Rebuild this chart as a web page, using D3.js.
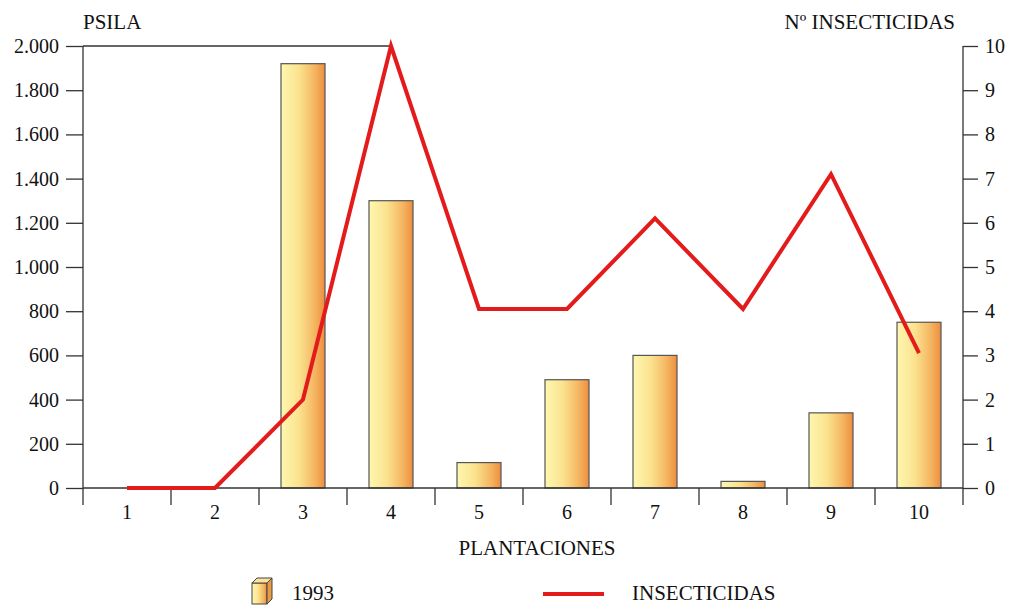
<!DOCTYPE html>
<html>
<head>
<meta charset="utf-8">
<script src="https://cdn.jsdelivr.net/npm/d3@7"></script>
<style>
  body { margin: 0; background: #fff; }
</style>
</head>
<body>
<div id="chart"></div>
<script>
// plantaciones 1..10
var plantaciones = ["1", "2", "3", "4", "5", "6", "7", "8", "9", "10"];
// psila 1993 (left axis)
var psila1993 = [0, 0, 1920, 1300, 115, 490, 600, 30, 340, 750];
// numero de insecticidas (right axis)
var insecticidas = [0, 0, 2, 10, 4.05, 4.05, 6.1, 4.05, 7.1, 3.05];
var leftTicks = [0, 200, 400, 600, 800, 1000, 1200, 1400, 1600, 1800, 2000];
var rightTicks = [0, 1, 2, 3, 4, 5, 6, 7, 8, 9, 10];

var W = 1012, H = 609;
var x0 = 83, x1 = 963, yTop = 46, yBot = 488;
var serif = "Liberation Serif, Times New Roman, serif";

var svg = d3.select("#chart").append("svg")
    .attr("width", W)
    .attr("height", H)
    .attr("font-family", serif);

var defs = svg.append("defs");
var grad = defs.append("linearGradient").attr("id", "barGrad")
    .attr("x1", "0%").attr("x2", "100%").attr("y1", "0%").attr("y2", "0%");
grad.append("stop").attr("offset", "0%").attr("stop-color", "#fef7b0");
grad.append("stop").attr("offset", "40%").attr("stop-color", "#fbe390");
grad.append("stop").attr("offset", "75%").attr("stop-color", "#f5b864");
grad.append("stop").attr("offset", "100%").attr("stop-color", "#ec8e3e");

var x = d3.scaleBand().domain(plantaciones).range([x0, x1]);
var yL = d3.scaleLinear().domain([0, 2000]).range([yBot, yTop]);
var yR = d3.scaleLinear().domain([0, 10]).range([yBot, yTop]);

var fmt = function (d) { return d3.format(",")(d).replace(/,/g, "."); };

// bars
svg.selectAll("rect.bar")
    .data(psila1993)
    .enter()
    .append("rect")
    .attr("class", "bar")
    .attr("x", function (d, i) { return x(plantaciones[i]) + x.bandwidth() / 4; })
    .attr("y", function (d) { return yL(d); })
    .attr("width", x.bandwidth() / 2)
    .attr("height", function (d) { return yBot - yL(d); })
    .style("fill", "url(#barGrad)")
    .style("stroke", "#555")
    .style("stroke-width", 1.2)
    .style("display", function (d) { return d > 0 ? null : "none"; });

var axisCol = "#333";

// x axis baseline
svg.append("line")
    .attr("x1", x0).attr("x2", x1).attr("y1", yBot).attr("y2", yBot)
    .style("stroke", axisCol).style("stroke-width", 1.3);

// top frame line (partial)
svg.append("line")
    .attr("x1", x0).attr("x2", x(plantaciones[3]) + x.bandwidth() / 2).attr("y1", yTop).attr("y2", yTop)
    .style("stroke", axisCol).style("stroke-width", 1.3);

// left axis
var gL = svg.append("g").attr("transform", "translate(" + x0 + ",0)")
    .call(d3.axisLeft(yL).tickValues(leftTicks).tickFormat(fmt).tickSize(17).tickPadding(7));
gL.select(".domain").remove();
gL.append("line").attr("x1", 0).attr("x2", 0).attr("y1", yTop).attr("y2", yBot + 17)
    .style("stroke", axisCol).style("stroke-width", 1.3);

// right axis
var gR = svg.append("g").attr("transform", "translate(" + x1 + ",0)")
    .call(d3.axisRight(yR).tickValues(rightTicks).tickSize(15).tickPadding(7));
gR.select(".domain").remove();
gR.append("line").attr("x1", 0).attr("x2", 0).attr("y1", yTop).attr("y2", yBot + 17)
    .style("stroke", axisCol).style("stroke-width", 1.3);

// bottom axis
var gB = svg.append("g").attr("transform", "translate(0," + yBot + ")")
    .call(d3.axisBottom(x).tickSize(0).tickPadding(17));
gB.select(".domain").remove();
gB.selectAll(".tickmark")
    .data(plantaciones.slice(1))
    .enter()
    .append("line")
    .attr("x1", function (d) { return x(d); })
    .attr("x2", function (d) { return x(d); })
    .attr("y1", 0).attr("y2", 17)
    .style("stroke", axisCol).style("stroke-width", 1.3);

[gL, gR, gB].forEach(function (g) {
    g.attr("font-family", serif).attr("font-size", 20);
    g.selectAll(".tick line").style("stroke", axisCol).style("stroke-width", 1.3);
    g.selectAll(".tick text").attr("fill", "#111");
});

// insecticidas line
var line = d3.line()
    .x(function (d, i) { return x(plantaciones[i]) + x.bandwidth() / 2; })
    .y(function (d) { return yR(d); });

svg.append("path")
    .datum(insecticidas)
    .attr("d", line)
    .style("fill", "none")
    .style("stroke", "#e41b1b")
    .style("stroke-width", 4)
    .style("stroke-linejoin", "miter");

// titles
svg.append("text").attr("x", 83).attr("y", 29)
    .attr("font-size", 21).attr("fill", "#111").text("PSILA");
svg.append("text").attr("x", 955).attr("y", 29).attr("text-anchor", "end")
    .attr("font-size", 21).attr("fill", "#111").text("Nº INSECTICIDAS");
svg.append("text").attr("x", 537).attr("y", 555).attr("text-anchor", "middle")
    .attr("font-size", 21).attr("fill", "#111").text("PLANTACIONES");

// legend
var lg = svg.append("g");
var bx = 252, by = 583, bw = 15, bh = 21, dp = 5;
lg.append("rect").attr("x", bx).attr("y", by).attr("width", bw).attr("height", bh)
    .style("fill", "url(#barGrad)").style("stroke", "#444").style("stroke-width", 1);
lg.append("polygon")
    .attr("points", [[bx, by], [bx + dp, by - dp], [bx + bw + dp, by - dp], [bx + bw, by]].join(" "))
    .style("fill", "#fbe49a").style("stroke", "#444").style("stroke-width", 1);
lg.append("polygon")
    .attr("points", [[bx + bw, by], [bx + bw + dp, by - dp], [bx + bw + dp, by + bh - dp], [bx + bw, by + bh]].join(" "))
    .style("fill", "#e99a45").style("stroke", "#444").style("stroke-width", 1);
lg.append("text").attr("x", 292).attr("y", 600).attr("font-size", 21).attr("fill", "#111").text("1993");

lg.append("line").attr("x1", 543).attr("x2", 604).attr("y1", 594).attr("y2", 594)
    .style("stroke", "#e41b1b").style("stroke-width", 4);
lg.append("text").attr("x", 632).attr("y", 600).attr("font-size", 21).attr("fill", "#111").text("INSECTICIDAS");
</script>
</body>
</html>
